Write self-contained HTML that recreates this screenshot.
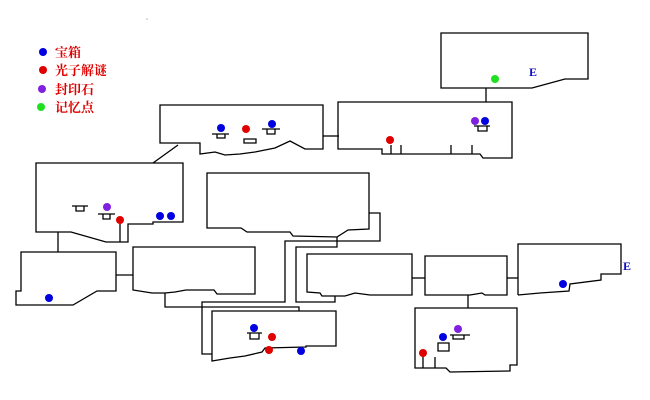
<!DOCTYPE html>
<html><head><meta charset="utf-8"><style>
html,body{margin:0;padding:0;background:#fff;}
svg{display:block;}
.t{font-family:"Liberation Serif","Noto Serif CJK SC","Noto Sans CJK SC",serif;font-weight:bold;font-size:13px;fill:#e00000;}
.e{font-family:"Liberation Serif",serif;font-weight:bold;font-size:12px;fill:#1010c0;}
</style></head><body>
<svg width="650" height="400" viewBox="0 0 650 400" xmlns="http://www.w3.org/2000/svg">
<rect width="650" height="400" fill="#fff"/>
<g fill="none" stroke="#000" stroke-width="1.3">
<!-- Room A -->
<path d="M160,143 L160,105 L323,105 L323,149 L305,149 L290,141 L275,148 L255,152 L240,154 L225,155 L215,152 L200,154 L200,143 Z"/>
<path d="M212,134 L229,134 M217,134 L217,138 L225,138 L225,134"/>
<path d="M244,139 L256,139 L256,143 L244,143 Z"/>
<path d="M262,129 L280,129 M267,129 L267,134 L275,134 L275,129"/>
<path d="M178,145 L153,163"/>
<path d="M323,136 L339,136"/>
<!-- Room C -->
<path d="M338,149 L338,102 L512,102 L512,158 L483,158 L480,154 L382,154 L382,149 Z"/>
<path d="M391,145 L391,154 M401,145 L401,154 M451,145 L451,154 M472,145 L472,154"/>
<path d="M474,126 L490,126 M478,126 L478,131 L487,131 L487,126"/>
<!-- Room D -->
<path d="M441,88 L441,33 L588,33 L588,79 L565,79 L532,88 Z"/>
<path d="M486,88 L486,102"/>
<!-- Room B -->
<path d="M36,232 L36,163 L183,163 L183,222 L153,222 L153,224 L128,224 L128,242 L106,242 L71,232 Z"/>
<path d="M120,224 L120,242"/>
<path d="M72,206 L88,206 M76,206 L76,211 L84,211 L84,206"/>
<path d="M98,214 L115,214 M103,214 L103,219 L110,219 L110,214"/>
<path d="M58,232 L58,252"/>
<!-- Room E -->
<path d="M21,291 L21,252 L116,252 L116,291 L97,291 L73,305 L16,305 L16,291 Z"/>
<path d="M116,275 L133,275"/>
<!-- Room F -->
<path d="M133,290 L133,247 L255,247 L255,294 L217,294 L214,290 L200,290 L186,290 L175,292 L165,293 L152,293 Z"/>
<path d="M165,293 L165,307 L299,307 L299,311"/>
<!-- Room H -->
<path d="M207,228 L207,173 L369,173 L369,229 L348,230 L337,237 L293,236 L290,232 L247,232 L241,228 Z"/>
<path d="M369,213 L380,213 L380,241 L285,241 L285,302 L202,302 L202,354 L212,354"/>
<path d="M337,237 L337,247 L296,247 L296,302 L335,302 L335,296"/>
<!-- Room G -->
<path d="M212,361 L212,311 L336,311 L336,346 L306,346 L306,347 L265,348 L262,352 L245,356 L230,358 Z"/>
<path d="M247,333 L262,333 M250,333 L250,339 L259,339 L259,333"/>
<!-- Room I -->
<path d="M307,292 L307,254 L412,254 L412,295 L370,295 L355,293 L345,296 L322,296 L320,293 Z"/>
<path d="M412,278 L425,278"/>
<!-- Room J -->
<path d="M425,295 L425,256 L507,256 L507,295 L485,295 L482,293 L470,295 Z"/>
<path d="M507,278 L518,278"/>
<path d="M468,295 L468,308"/>
<!-- Room K -->
<path d="M518,295 L518,244 L621,244 L621,274 L601,274 L601,280 L570,284 L569,291 L540,293 L518,295"/>
<!-- Room L -->
<path d="M415,368 L415,308 L517,308 L517,365 L510,365 L510,371 L450,372 L446,368 Z"/>
<path d="M423,356 L423,368 M435,357 L435,368"/>
<path d="M438,343 L449,343 L449,351 L438,351 Z"/>
<path d="M450,335 L470,335 M453,335 L453,339 L464,339 L464,335"/>
</g>
<!-- legend -->
<circle cx="43" cy="52" r="4" fill="#0000e0"/>
<circle cx="43" cy="70" r="4" fill="#e00000"/>
<circle cx="42" cy="89" r="4" fill="#8020e0"/>
<circle cx="41" cy="107" r="4" fill="#20e020"/>
<text class="t" x="55" y="57">宝箱</text>
<text class="t" x="55" y="75">光子解谜</text>
<text class="t" x="55" y="94">封印石</text>
<text class="t" x="55" y="112">记忆点</text>
<circle cx="147" cy="19" r="0.6" fill="#888"/>
<!-- dots -->
<g>
<circle cx="221" cy="128" r="4" fill="#0000e0"/>
<circle cx="246" cy="129" r="4" fill="#e00000"/>
<circle cx="272" cy="124" r="4" fill="#0000e0"/>
<circle cx="390" cy="140" r="4" fill="#e00000"/>
<circle cx="475" cy="121" r="4" fill="#8020e0"/>
<circle cx="485" cy="121" r="4" fill="#0000e0"/>
<circle cx="495" cy="79" r="4" fill="#20e020"/>
<circle cx="107" cy="207" r="4" fill="#8020e0"/>
<circle cx="120" cy="220" r="4" fill="#e00000"/>
<circle cx="160" cy="216" r="4" fill="#0000e0"/>
<circle cx="171" cy="216" r="4" fill="#0000e0"/>
<circle cx="49" cy="298" r="4" fill="#0000e0"/>
<circle cx="254" cy="328" r="4" fill="#0000e0"/>
<circle cx="272" cy="337" r="4" fill="#e00000"/>
<circle cx="269" cy="350" r="4" fill="#e00000"/>
<circle cx="301" cy="351" r="4" fill="#0000e0"/>
<circle cx="563" cy="284" r="4" fill="#0000e0"/>
<circle cx="423" cy="353" r="4" fill="#e00000"/>
<circle cx="443" cy="337" r="4" fill="#0000e0"/>
<circle cx="458" cy="329" r="4" fill="#8020e0"/>
</g>
<text class="e" x="529" y="76">E</text>
<text class="e" x="623" y="270">E</text>
</svg>
</body></html>
